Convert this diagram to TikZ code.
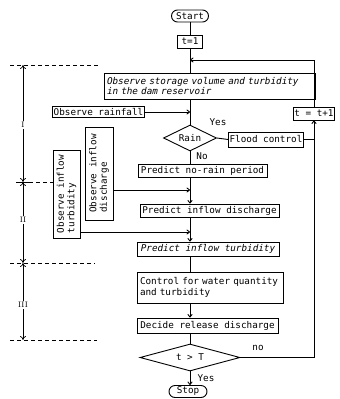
\documentclass[tikz,border=0pt]{standalone}
\usepackage{fontspec}
\setmonofont{DejaVu Sans Mono}
\usetikzlibrary{shapes.geometric,arrows.meta}
\begin{document}
\begin{tikzpicture}[x=1pt,y=-1pt,
  txt/.style={font=\ttfamily\fontsize{9.3}{10.5}\selectfont},
  box/.style={txt,draw,line width=0.9pt,inner sep=1pt},
  term/.style={box,rounded corners=6pt,minimum width=37pt,minimum height=12pt},
  dia/.style={box,shape=diamond,aspect=2,inner sep=0pt},
  vbox/.style={box,rotate=90,align=left},
  conn/.style={line width=0.9pt},
  arr/.style={conn,-{To[length=3.5pt,width=5pt]}},
  lbl/.style={txt,inner sep=0pt},
  dim/.style={line width=0.7pt},
  dimdash/.style={line width=0.7pt,dash pattern=on 4pt off 3pt},
  roman/.style={font=\rmfamily\fontsize{8}{9}\selectfont,fill=white,inner sep=1pt}]
\useasboundingbox (0,0) rectangle (340,399);

% main column
\node[term] (start) at (190,16) {Start};
\node[box,minimum width=25pt,minimum height=13pt] (t1) at (190,41.5) {t=1};
\node[box,align=left,text width=205pt,minimum height=26pt,inner xsep=3pt] (obs) at (209.5,86)
  {\itshape Observe storage volume and turbidity\\\itshape in the dam reservoir};
\node[box,minimum width=91pt,minimum height=11pt] (rainf) at (98.5,112) {Observe rainfall};
\node[dia,minimum width=53pt,minimum height=26pt] (rain) at (190,138) {Rain};
\node[box,minimum width=74pt,minimum height=15pt] (flood) at (266,139.5) {Flood control};
\node[box,minimum width=31pt,minimum height=13pt] (tt) at (314,113.5) {t = t+1};
\node[box,minimum width=129pt,minimum height=13pt] (norain) at (202.5,170.5) {Predict no-rain period};
\node[vbox,minimum width=93pt,minimum height=28pt] (disch) at (99,173.5) {Observe inflow\\discharge};
\node[vbox,minimum width=88pt,minimum height=27pt] (turb) at (66.5,194) {Observe inflow\\turbidity};
\node[box,minimum width=139pt,minimum height=13pt] (pdis) at (209.5,210.5) {Predict inflow discharge};
\node[box,minimum width=142pt,minimum height=14pt] (ptur) at (208,249) {\itshape Predict inflow turbidity};
\node[box,align=left,text width=140pt,minimum height=31pt,inner xsep=3pt] (ctrl) at (210,287.5)
  {Control for water quantity\\and turbidity};
\node[box,minimum width=141pt,minimum height=15pt] (dec) at (207.5,325.5) {Decide release discharge};
\node[dia,minimum width=100pt,minimum height=27pt] (tT) at (190,357.5) {t > T};
\node[term,minimum width=38pt] (stop) at (188,391.5) {Stop};

% labels
\node[lbl] (yes1) at (218,122) {Yes};
\node[lbl] (no1) at (202,156) {No};
\node[lbl] (no2) at (258,348) {no};
\node[lbl] (yes2) at (206,378) {Yes};

% coordinates
\coordinate (lp) at (190,60);
\coordinate (jr) at (190,112);
\coordinate (jd) at (190,190);
\coordinate (jt) at (190,232);

% connectors
\draw[conn] (start) -- (t1);
\draw[conn] (t1.south) -- (t1.south |- obs.north);
\draw[arr] (tt.north) -- (tt.north |- lp) -- (lp);
\draw[conn] (rain.north |- obs.south) -- (rain.north);
\draw[arr] (rainf.east) -- (jr);
\draw[conn] (rain.east) -- (flood.west);
\draw[conn] (flood.east) -- (flood.east -| tt.south);
\draw[conn] (rain.south) -- (rain.south |- norain.north);
\draw[arr] (rain.south |- norain.south) -- (rain.south |- pdis.north);
\draw[arr] (jd -| disch.south) -- (jd);
\draw[arr] (rain.south |- pdis.south) -- (rain.south |- ptur.north);
\draw[arr] (jt -| turb.south) -- (jt);
\draw[conn] (rain.south |- ptur.south) -- (rain.south |- ctrl.north);
\draw[arr] (rain.south |- ctrl.south) -- (rain.south |- dec.north);
\draw[conn] (rain.south |- dec.south) -- (tT.north);
\draw[arr] (tT.south) -- (tT.south |- stop.north);
\draw[arr] (tT.east) -- (tT.east -| tt.south) -- (tt.south);

% left section markers
\coordinate (s0) at (23,65);
\coordinate (s1) at (23,182);
\coordinate (s2) at (23,263);
\coordinate (s3) at (23,340);
\draw[dimdash] (10,65) -- (100,65);
\draw[dim] (16,182) -- (29,182);
\draw[dimdash] (29,182) -- (57,182);
\draw[dimdash] (10,263) -- (95,263);
\draw[dimdash] (10,340) -- (97,340);
\draw[dim,{To[length=4pt,width=6pt]}-{To[length=4pt,width=6pt]}] (s0) -- (s1);
\draw[dim,{To[length=4pt,width=6pt]}-{To[length=4pt,width=6pt]}] (s1) -- (s2);
\draw[dim,{To[length=4pt,width=6pt]}-{To[length=4pt,width=6pt]}] (s2) -- (s3);
\node[roman] (r1) at (23,125) {I};
\node[roman] (r2) at (23,220) {II};
\node[roman] (r3) at (23,305) {III};
\end{tikzpicture}
\end{document}
